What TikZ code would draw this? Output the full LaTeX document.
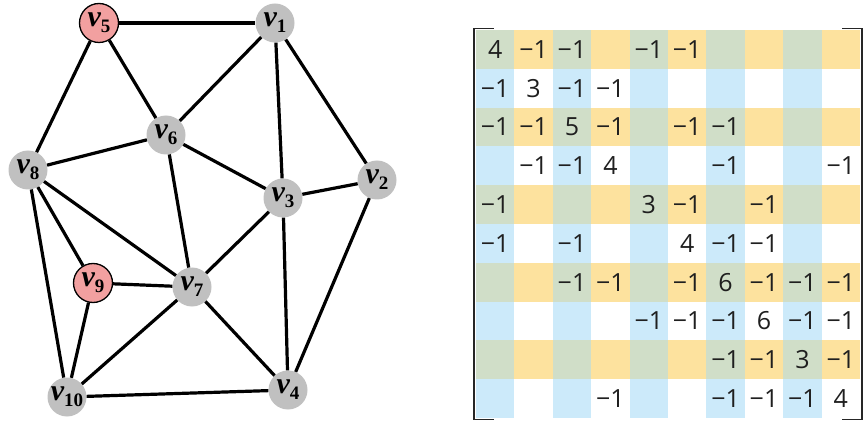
\documentclass[tikz,border=0pt]{standalone}
\usepackage{fontspec}
\usepackage{xcolor}
\usetikzlibrary{positioning, fit}
\newfontfamily\vertfont{Liberation Serif}
\newfontfamily\matfont{Open Sans}
\definecolor{vgray}{RGB}{192,192,192}
\definecolor{vpink}{RGB}{242,160,160}
\definecolor{cell3}{RGB}{208,222,200}
\definecolor{cell2}{RGB}{253,226,158}
\definecolor{cell1}{RGB}{204,234,250}
\definecolor{cell0}{RGB}{255,255,255}
\newcommand{\mone}{−1}
\newcommand{\zer}{}
\newcommand{\vlab}[1]{{\itshape v}\raisebox{-6pt}{\fontsize{19}{19}\selectfont #1}}
\tikzset{
  vert/.style={circle, fill=vgray, minimum size=39pt, inner sep=0pt,
               font=\vertfont\bfseries\fontsize{30}{30}\selectfont},
  hivert/.style={vert, fill=vpink, draw=black, line width=1.3pt},
  link/.style={line width=3.2pt},
  cell/.style={rectangle, minimum width=38.4pt, minimum height=38.8pt, inner sep=0pt,
               text=black!88, font=\matfont\fontsize{25}{25}\selectfont},
  bracket/.style={line width=1.8pt, draw=black!85},
}
\begin{document}
\begin{tikzpicture}[x=1pt, y=-1pt]
  \useasboundingbox (0,0) rectangle (865,422);

  % Graph vertices
  \node[vert]   (v1)  at (275,23)  {\vlab{1}};
  \node[vert]   (v2)  at (377,180) {\vlab{2}};
  \node[vert]   (v3)  at (283,198) {\vlab{3}};
  \node[vert]   (v4)  at (288,390) {\vlab{4}};
  \node[hivert] (v5)  at (99,23)   {\vlab{5}};
  \node[vert]   (v6)  at (166,135) {\vlab{6}};
  \node[vert]   (v7)  at (192,287) {\vlab{7}};
  \node[vert]   (v8)  at (28,170)  {\vlab{8}};
  \node[hivert] (v9)  at (93,283)  {\vlab{9}};
  \node[vert]   (v10) at (67,397)  {\vlab{10}};

  % Graph edges
  \draw[link] (v5) -- (v1);
  \draw[link] (v5) -- (v6);
  \draw[link] (v5) -- (v8);
  \draw[link] (v1) -- (v6);
  \draw[link] (v1) -- (v3);
  \draw[link] (v1) -- (v2);
  \draw[link] (v6) -- (v8);
  \draw[link] (v6) -- (v3);
  \draw[link] (v6) -- (v7);
  \draw[link] (v3) -- (v2);
  \draw[link] (v3) -- (v7);
  \draw[link] (v3) -- (v4);
  \draw[link] (v2) -- (v4);
  \draw[link] (v8) -- (v7);
  \draw[link] (v8) -- (v9);
  \draw[link] (v8) -- (v10);
  \draw[link] (v9) -- (v7);
  \draw[link] (v9) -- (v10);
  \draw[link] (v7) -- (v10);
  \draw[link] (v7) -- (v4);
  \draw[link] (v10) -- (v4);

  % Laplacian matrix
  \foreach \row [count=\i] in {
      {4,\mone,\mone,\zer,\mone,\mone,\zer,\zer,\zer,\zer},
      {\mone,3,\mone,\mone,\zer,\zer,\zer,\zer,\zer,\zer},
      {\mone,\mone,5,\mone,\zer,\mone,\mone,\zer,\zer,\zer},
      {\zer,\mone,\mone,4,\zer,\zer,\mone,\zer,\zer,\mone},
      {\mone,\zer,\zer,\zer,3,\mone,\zer,\mone,\zer,\zer},
      {\mone,\zer,\mone,\zer,\zer,4,\mone,\mone,\zer,\zer},
      {\zer,\zer,\mone,\mone,\zer,\mone,6,\mone,\mone,\mone},
      {\zer,\zer,\zer,\zer,\mone,\mone,\mone,6,\mone,\mone},
      {\zer,\zer,\zer,\zer,\zer,\zer,\mone,\mone,3,\mone},
      {\zer,\zer,\zer,\mone,\zer,\zer,\mone,\mone,\mone,4}} {
    \foreach \e [count=\j] in \row {
      \pgfmathtruncatemacro\k{2*mod(\i,2)+mod(\j,2)}
      \node[cell, fill=cell\k] (m-\i-\j) at ({476+38.4*(\j-0.5)},{30+38.8*(\i-0.5)}) {\e};
    }
  }
  \node[fit=(m-1-1)(m-10-10), inner sep=0pt] (mat) {};

  % Brackets
  \draw[bracket] ([xshift=18pt,yshift=1pt]mat.north west) -- ([xshift=-1.5pt,yshift=1pt]mat.north west)
    -- ([xshift=-1.5pt,yshift=-1pt]mat.south west) -- ([xshift=18pt,yshift=-1pt]mat.south west);
  \draw[bracket] ([xshift=-18pt,yshift=1pt]mat.north east) -- ([xshift=1.5pt,yshift=1pt]mat.north east)
    -- ([xshift=1.5pt,yshift=-1pt]mat.south east) -- ([xshift=-18pt,yshift=-1pt]mat.south east);

\end{tikzpicture}
\end{document}
